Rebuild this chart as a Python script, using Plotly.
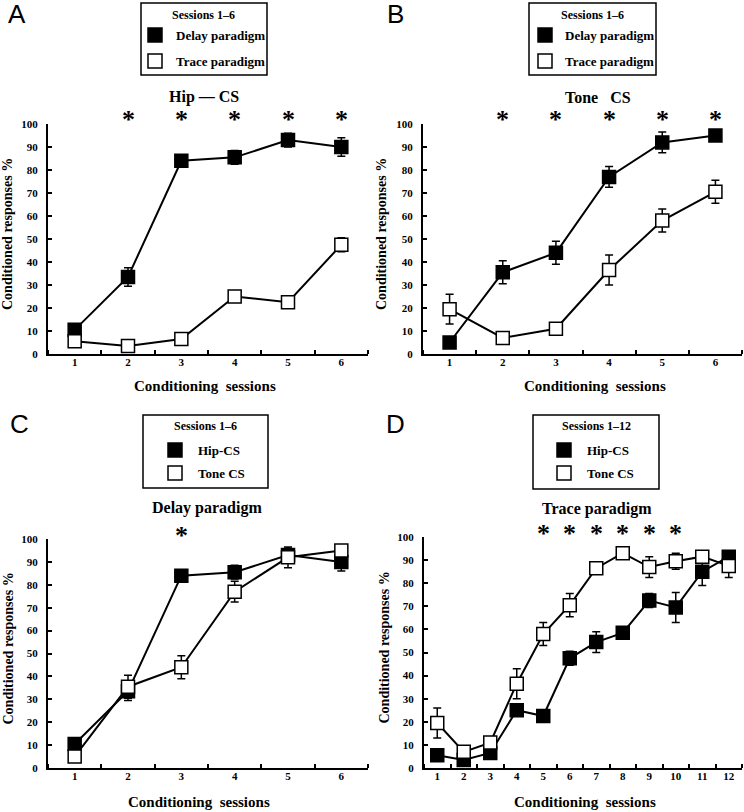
import plotly.graph_objects as go

W, H = 744, 812
SERIF = "Liberation Serif"
SANS = "Liberation Sans"

# Data
sessions = list(range(1, 13))

hip_delay = [10.5, 33.5, 84, 85.5, 93, 90]
hip_delay_err = [1, 4, 1, 3, 3, 4]
tone_delay = [5, 35.5, 44, 77, 92, 95]
tone_delay_err = [0.5, 5, 5, 4.5, 4.5, 0.5]

hip_trace = [5.5, 3.5, 6.5, 25, 22.5, 47.5, 54.5, 58.5, 72.5, 69.5, 85, 91.5]
hip_trace_err = [0.5, 0.5, 0.5, 1, 1, 3, 4.5, 1, 3, 6.5, 6, 1]
tone_trace = [19.5, 7, 11, 36.5, 58, 70.5, 86.5, 93, 87, 89.5, 91.5, 87.5]
tone_trace_err = [6.5, 0.5, 0.5, 6.5, 5, 5, 1, 1, 4.5, 3.5, 1, 5]

stars_a = [2, 3, 4, 5, 6]
stars_b = [2, 3, 4, 5, 6]
stars_c = [3]
stars_d = [5, 6, 7, 8, 9, 10]


# page pixel -> paper fraction
def fx(x):
    return x / W


def fy(y):
    return 1 - y / H


def label(x, y, text, size, family=SERIF, bold=True, **kw):
    d = dict(x=fx(x), y=fy(y), xref="paper", yref="paper", text=text, showarrow=False,
             xanchor="center", yanchor="middle",
             font=dict(family=family, size=size, color="black", weight="bold" if bold else "normal"))
    d.update(kw)
    return d


# panel layout in page pixels
panels = [
    dict(letter="A", letter_pos=(17, 14), plot=(48, 368, 124, 354), n=6,
         title="Hip — CS", title_pos=(204, 97), xt_pos=(205, 386), yt_x=8,
         legend_box=(141, 3, 267, 75), legend_title_y=15, rows=(35, 61), sq_x=148, txt_x=174,
         legend_title="Sessions 1–6", labels=("Delay paradigm", "Trace paradigm"),
         filled=(hip_delay[:6], hip_delay_err[:6]), hollow=(hip_trace[:6], hip_trace_err[:6]),
         stars=stars_a),
    dict(letter="B", letter_pos=(395, 14), plot=(423, 742, 124, 354), n=6,
         title="Tone   CS", title_pos=(598, 97), xt_pos=(595, 386), yt_x=382,
         legend_box=(529, 3, 656, 75), legend_title_y=15, rows=(35, 61), sq_x=538, txt_x=563,
         legend_title="Sessions 1–6", labels=("Delay paradigm", "Trace paradigm"),
         filled=(tone_delay[:6], tone_delay_err[:6]), hollow=(tone_trace[:6], tone_trace_err[:6]),
         stars=stars_b),
    dict(letter="C", letter_pos=(19, 424), plot=(48, 368, 539, 768), n=6,
         title="Delay paradigm", title_pos=(207, 508), xt_pos=(199, 802), yt_x=8,
         legend_box=(143, 415, 268, 488), legend_title_y=426, rows=(450, 473), sq_x=168, txt_x=196,
         legend_title="Sessions 1–6", labels=("Hip-CS", "Tone CS"),
         filled=(hip_delay[:6], hip_delay_err[:6]), hollow=(tone_delay[:6], tone_delay_err[:6]),
         stars=stars_c),
    dict(letter="D", letter_pos=(395, 424), plot=(424, 742, 537, 768), n=12,
         title="Trace paradigm", title_pos=(597, 509), xt_pos=(585, 802), yt_x=384,
         legend_box=(533, 415, 659, 489), legend_title_y=426, rows=(450, 473), sq_x=557, txt_x=585,
         legend_title="Sessions 1–12", labels=("Hip-CS", "Tone CS"),
         filled=(hip_trace, hip_trace_err), hollow=(tone_trace, tone_trace_err),
         stars=stars_d),
]

fig = go.Figure()
shapes = []
annotations = []
layout = {}
tick_font = dict(family=SERIF, size=11, color="black", weight="bold")

for i, p in enumerate(panels):
    sfx = "" if i == 0 else str(i + 1)
    xa, ya = "x" + sfx, "y" + sfx
    n = p["n"]
    xs = sessions[:n]
    x0, x1, y0, y1 = p["plot"]

    for (vals, errs), fill in [(p["filled"], "black"), (p["hollow"], "white")]:
        fig.add_trace(go.Scatter(
            x=xs, y=vals, mode="lines+markers", xaxis=xa, yaxis=ya, showlegend=False,
            line=dict(color="black", width=2),
            marker=dict(symbol="square", size=13, color=fill, line=dict(color="black", width=1.5)),
            error_y=dict(type="data", array=errs, color="black", thickness=1.5, width=4),
            cliponaxis=False,
        ))

    layout["xaxis" + sfx] = dict(
        domain=[fx(x0), fx(x1)], anchor=ya, range=[0.5, n + 0.5],
        tickvals=xs, ticks="", showline=True, linewidth=2, linecolor="black",
        showgrid=False, zeroline=False, tickfont=tick_font, ticklabelstandoff=-3,
        minor=dict(tickvals=[s - 0.5 for s in xs] + [n + 0.5], ticks="inside",
                   ticklen=4, tickwidth=1.5, tickcolor="black", showgrid=False),
    )
    layout["yaxis" + sfx] = dict(
        domain=[fy(y1), fy(y0)], anchor=xa, range=[0, 100], dtick=10,
        ticks="inside", ticklen=4, tickwidth=1.5, tickcolor="black",
        showline=True, linewidth=2, linecolor="black", showgrid=False, zeroline=False,
        ticklabelstandoff=6, tickfont=tick_font,
    )

    # significance stars
    for s in p["stars"]:
        annotations.append(dict(x=s, y=fy(y0 - 6), xref=xa, yref="paper", text="*",
                                showarrow=False, xanchor="center", yanchor="middle", yshift=-2,
                                font=dict(family=SERIF, size=26, color="black", weight="bold")))

    lx, ly = p["letter_pos"]
    annotations.append(label(lx, ly, p["letter"], 26, family=SANS, bold=False))
    tx, ty = p["title_pos"]
    annotations.append(label(tx, ty, p["title"], 16))
    ax_, ay_ = p["xt_pos"]
    annotations.append(label(ax_, ay_, "Conditioning  sessions", 15))
    annotations.append(label(p["yt_x"], (y0 + y1) / 2 - 5, "Conditioned responses %", 14, textangle=-90))

    # legend box
    bx0, by0, bx1, by1 = p["legend_box"]
    shapes.append(dict(type="rect", xref="paper", yref="paper",
                       x0=fx(bx0), x1=fx(bx1), y0=fy(by1), y1=fy(by0),
                       line=dict(color="black", width=1.5), fillcolor="white"))
    annotations.append(label((bx0 + bx1) / 2, p["legend_title_y"], p["legend_title"], 12))
    for row_y, text, fill in zip(p["rows"], p["labels"], ["black", "white"]):
        shapes.append(dict(type="rect", xref="paper", yref="paper",
                           x0=fx(p["sq_x"]), x1=fx(p["sq_x"] + 14),
                           y0=fy(row_y + 7), y1=fy(row_y - 7),
                           line=dict(color="black", width=1.5), fillcolor=fill))
        annotations.append(label(p["txt_x"], row_y, text, 13, xanchor="left"))

fig.update_layout(
    width=W, height=H, margin=dict(l=0, r=0, t=0, b=0, autoexpand=False),
    plot_bgcolor="white", paper_bgcolor="white", showlegend=False,
    shapes=shapes, annotations=annotations, **layout,
)

# drop the default page margin so the figure fills the window exactly
fig.write_html("out.html", config={"displayModeBar": False},
               post_script="document.body.style.margin = '0';")
